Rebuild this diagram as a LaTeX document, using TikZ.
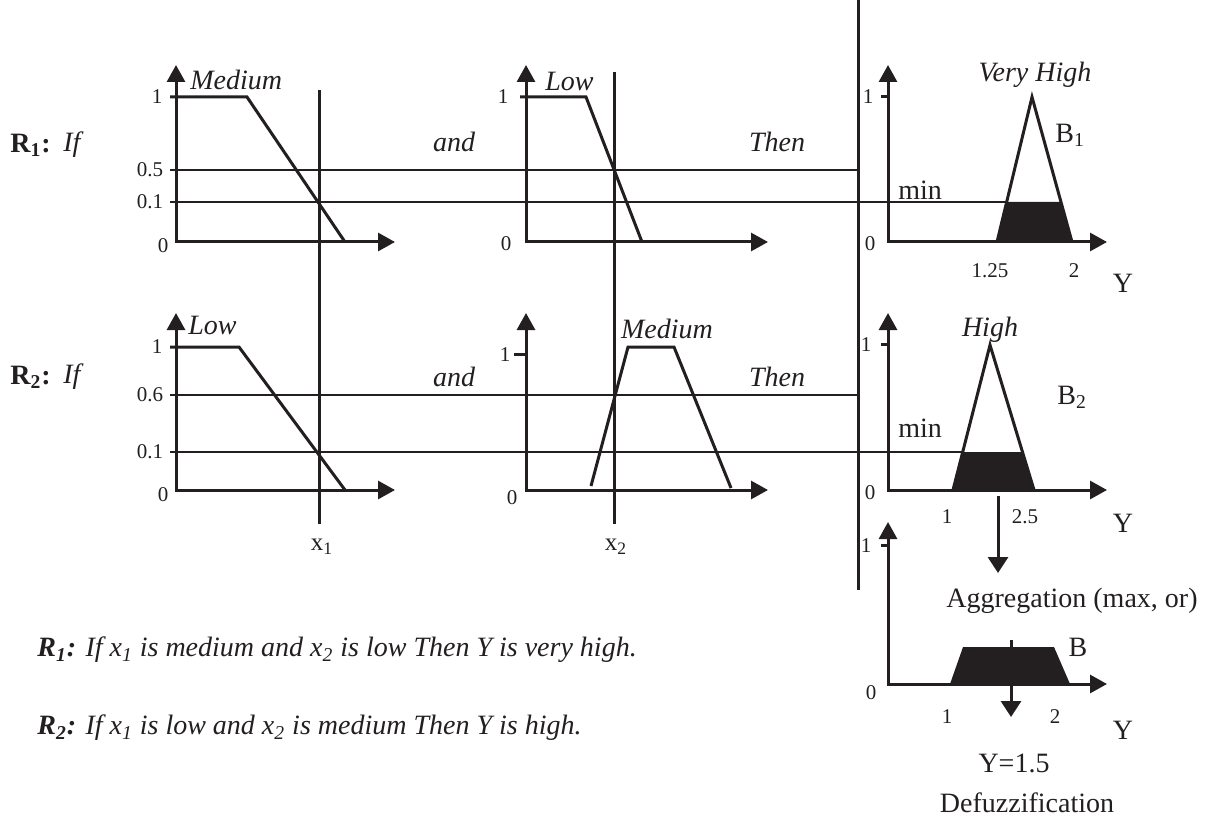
\documentclass[tikz,border=0pt]{standalone}
\usepackage{fontspec}
\setmainfont{Liberation Serif}
\usetikzlibrary{arrows.meta}
\definecolor{ink}{HTML}{231F20}
\begin{document}
\begin{tikzpicture}[x=0.5pt,y=-0.5pt,line join=miter,
  ax/.style={draw=ink,line width=1.5pt,{Triangle[length=8.5pt,width=9pt]}-{Triangle[length=8.5pt,width=9pt]}},
  mf/.style={draw=ink,line width=1.5pt},
  cutline/.style={draw=ink,line width=1.3pt},
  fillcut/.style={fill=ink},
  downarrow/.style={draw=ink,line width=1.5pt,-{Triangle[length=8pt,width=10pt]}},
  lbl/.style={inner sep=0pt,text=ink,font=\fontsize{14}{16}\selectfont},
  ilbl/.style={inner sep=0pt,text=ink,font=\fontsize{14}{16}\selectfont\itshape},
  tk/.style={inner sep=0pt,text=ink,font=\fontsize{10.5}{12}\selectfont},
  sent/.style={inner sep=0pt,anchor=west,text=ink,font=\fontsize{14}{16}\selectfont\itshape}]
\useasboundingbox (0,0) rectangle (1213,823);

% ---------- rule labels ----------
\node[lbl,anchor=west] (r1) at (10,145) {\textbf{R\textsubscript{1}:}};
\node[ilbl,anchor=west] (if1) at (63,145) {If};
\node[lbl,anchor=west] (r2) at (10,377) {\textbf{R\textsubscript{2}:}};
\node[ilbl,anchor=west] (if2) at (63,377) {If};

% ---------- cut lines ----------
\draw[cutline] (170,170) -- (860,170);
\draw[cutline] (170,202) -- (1007,202);
\draw[cutline] (170,395) -- (860,395);
\draw[cutline] (170,452) -- (963,452);

% crisp inputs and separator
\coordinate (x1top) at (319,90);  \coordinate (x1bot) at (319,524);
\coordinate (x2top) at (614,72);  \coordinate (x2bot) at (614,524);
\draw[mf] (x1top) -- (x1bot);
\draw[mf] (x2top) -- (x2bot);
\draw[mf] (858,0) -- (858,590);
\node[lbl,font=\fontsize{12.5}{14}\selectfont] (x1) at (322,547) {x\textsubscript{1}};
\node[lbl,font=\fontsize{12.5}{14}\selectfont] (x2) at (616,547) {x\textsubscript{2}};

% ---------- panel 1: Medium ----------
\draw[ax] (176,65) -- (176,242) -- (395,242);
\draw[mf] (170,97) -- (247,97) -- (345,242);
\node[ilbl,anchor=west] (med1) at (190,80) {Medium};
\node[tk] (p1a) at (157,97) {1};
\node[tk] (p1b) at (150,170) {0.5};
\node[tk] (p1c) at (150,202) {0.1};
\node[tk] (p1d) at (163,246) {0};

% ---------- panel 2: Low ----------
\draw[ax] (526,65) -- (526,242) -- (768,242);
\draw[mf] (520,97) -- (586,97) -- (642,242);
\node[ilbl,anchor=west] (low1) at (545,81) {Low};
\node[tk] (p2a) at (503,97) {1};
\node[tk] (p2d) at (506,244) {0};
\node[ilbl] (and1) at (454,142) {and};
\node[ilbl] (then1) at (777,142) {Then};

% ---------- panel 3: Very High ----------
\draw[ax] (888,65) -- (888,242) -- (1107,242);
\draw[mf] (881,97) -- (888,97);
\fill[fillcut] (997,242) -- (1007,202) -- (1061,202) -- (1072,242) -- cycle;
\draw[mf] (997,242) -- (1032,97) -- (1072,242);
\node[ilbl] (vh) at (1035,75) {Very High};
\node[lbl,anchor=west] (b1) at (1055,135) {B\textsubscript{1}};
\node[lbl,anchor=west] (min1) at (898,190) {min};
\node[tk] (p3a) at (868,97) {1};
\node[tk] (p3d) at (870,244) {0};
\node[tk] (p3e) at (990,271) {1.25};
\node[tk] (p3f) at (1074,271) {2};
\node[lbl] (y1) at (1123,283) {Y};

% ---------- panel 4: Low ----------
\draw[ax] (176,313) -- (176,490) -- (395,490);
\draw[mf] (170,347) -- (239,347) -- (345,490);
\node[ilbl,anchor=west] (low2) at (188,325) {Low};
\node[tk] (p4a) at (157,347) {1};
\node[tk] (p4b) at (150,395) {0.6};
\node[tk] (p4c) at (150,452) {0.1};
\node[tk] (p4d) at (163,495) {0};

% ---------- panel 5: Medium ----------
\draw[ax] (526,313) -- (526,490) -- (768,490);
\draw[mf] (514,354) -- (526,354);
\draw[mf] (591,486) -- (628,347) -- (674,347) -- (731,488);
\node[ilbl] (med2) at (667,329) {Medium};
\node[tk] (p5a) at (505,355) {1};
\node[tk] (p5d) at (512,498) {0};
\node[ilbl] (and2) at (454,377) {and};
\node[ilbl] (then2) at (777,377) {Then};

% ---------- panel 6: High ----------
\draw[ax] (888,313) -- (888,490) -- (1107,490);
\draw[mf] (881,344) -- (888,344);
\fill[fillcut] (953,490) -- (963,452) -- (1022,452) -- (1034,490) -- cycle;
\draw[mf] (953,490) -- (990,345) -- (1034,490);
\node[ilbl] (hi) at (990,330) {High};
\node[lbl,anchor=west] (b2) at (1057,397) {B\textsubscript{2}};
\node[lbl,anchor=west] (min2) at (898,428) {min};
\node[tk] (p6a) at (866,345) {1};
\node[tk] (p6d) at (870,493) {0};
\node[tk] (p6e) at (947,517) {1};
\node[tk] (p6f) at (1025,517) {2.5};
\node[lbl] (y2) at (1123,523) {Y};

% aggregation arrow
\coordinate (agtop) at (998,496);
\coordinate (agbot) at (998,573);
\draw[downarrow] (agtop) -- (agbot);
\node[lbl] (agg) at (1072,601) {Aggregation (max, or)};

% ---------- aggregated panel ----------
\draw[ax] (888,522) -- (888,684) -- (1107,684);
\draw[mf] (881,545) -- (888,545);
\fill[fillcut] (950,684) -- (963,647) -- (1054,647) -- (1070,684) -- cycle;
\coordinate (dftop) at (1011,640);
\coordinate (dfbot) at (1011,717);
\draw[downarrow] (dftop) -- (dfbot);
\node[lbl] (bb) at (1078,647) {B};
\node[tk] (p7a) at (866,546) {1};
\node[tk] (p7d) at (871,693) {0};
\node[tk] (p7e) at (947,717) {1};
\node[tk] (p7f) at (1055,717) {2};
\node[lbl] (y3) at (1123,730) {Y};
\node[lbl] (yv) at (1014,763) {Y=1.5};
\node[lbl] (defz) at (1027,803) {Defuzzification};

% ---------- rule sentences ----------
\node[sent] (s1) at (37,650) {\textbf{R\textsubscript{1}:} If x\textsubscript{1} is medium and x\textsubscript{2} is low Then Y is very high.};
\node[sent] (s2) at (37,728) {\textbf{R\textsubscript{2}:} If x\textsubscript{1} is low and x\textsubscript{2} is medium Then Y is high.};
\end{tikzpicture}
\end{document}
